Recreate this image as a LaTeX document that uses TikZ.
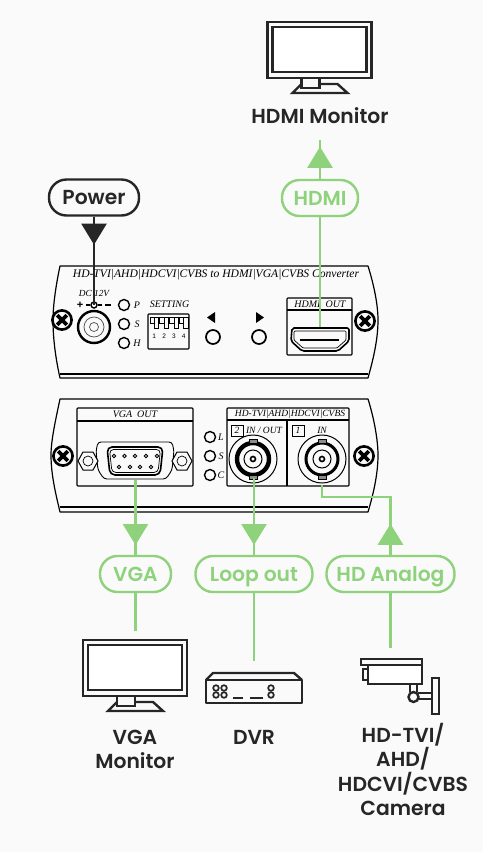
\documentclass[tikz,border=0pt]{standalone}
\usepackage{fontspec}
\setmainfont{Poppins}
\newfontfamily\labelfont{Poppins SemiBold}
\newfontfamily\panelfont{Liberation Serif}
\newfontfamily\dipfont{Liberation Sans}
\usetikzlibrary{arrows.meta,decorations.markings}
\definecolor{pagebg}{HTML}{FAFAFA}
\definecolor{inkdark}{HTML}{262626}
\definecolor{wiregreen}{HTML}{8FD27C}
\tikzset{
    every node/.style={inner sep=0pt},
    pill/.style={rounded corners=17.5pt,draw,line width=2.4pt,fill=pagebg,minimum height=36pt,text height=14pt,text depth=0pt,font=\labelfont\fontsize{20.3}{20.3}\selectfont},
    greenpill/.style={pill,draw=wiregreen,text=wiregreen},
    iconlabel/.style={text=inkdark,align=center,font=\labelfont\fontsize{20.3}{24.5}\selectfont},
    paneltext/.style={font=\panelfont\itshape\fontsize{#1}{#1}\selectfont,text=black},
    panel/.style={draw=black,line width=1.2pt,fill=pagebg,line join=round},
    box/.style={draw=black,line width=1.1pt,rounded corners=0.8pt},
    led/.style={draw=black,line width=1.4pt},
    icon/.style={draw=inkdark,line width=2.4pt},
    wire/.style={draw=wiregreen,line width=2.6pt},
    darkwire/.style={draw=inkdark,line width=2.2pt},
    tipat/.style={postaction={decorate,decoration={markings,mark=at position #1 with {\arrow{Triangle[length=21pt,width=25pt]}}}}},
    monitor/.pic={
        \draw[icon,fill=pagebg] (0,0) rectangle (104,56);
        \draw[icon,fill=white] (5,5) rectangle (99,50);
        \draw[icon] (34,56) -- (34,66) -- (52,66) -- (52,56);
        \draw[icon] (34,62) -- (25,71) -- (80,71) -- (70,62) -- (52,62);
    },
    screw/.pic={
        \draw[line width=2.6pt,fill=pagebg] (0,0) circle (9.6pt);
        \draw[line width=3.6pt] (-4.8,-4.8) -- (4.8,4.8) (-4.8,4.8) -- (4.8,-4.8);
    }
}
\begin{document}
\begin{tikzpicture}[x=1pt,y=-1pt]
\fill[pagebg] (0,0) rectangle (483,852);
\useasboundingbox (0,0) rectangle (483,852);
% front panel
\draw[panel] (60,266) -- (368,266) .. controls (374,285) and (378,305) .. (378,320) .. controls (378,340) and (373,360) .. (368,378)
    -- (60,378) .. controls (56,360) and (53,340) .. (53,320) .. controls (53,305) and (56,285) .. (60,266) -- cycle;
\draw[line width=2pt] (60,373.5) -- (368,373.5);
\pic at (62,320) {screw};
\pic at (365,321) {screw};
\node[paneltext=11.6] (fronttitle) at (216,275) {HD-TVI|AHD|HDCVI|CVBS to HDMI|VGA|CVBS Converter};
\node[paneltext=9.3] (dclabel) at (94,293) {DC 12V};
\node[font=\dipfont\bfseries\fontsize{11}{11}\selectfont] (dcplus) at (80,305) {+};
\draw[line width=1.2pt] (86,305) -- (90,305) (98,305) -- (102,305) (105,305) -- (111,305);
\draw[line width=1.4pt,fill=pagebg] (94,305) circle (3pt);
\draw[line width=2.4pt] (94,327) circle (16pt);
\draw[line width=0.7pt,draw=black!70] (94,327) circle (10pt) (94,327) circle (4.5pt);
\foreach \y/\txt in {305/P,324/S,343/H}{
    \draw[led] (124,\y) circle (5.5pt);
    \node[paneltext=10] (led\txt) at (137,\y) {\txt};
}
\node[paneltext=10] (settinglabel) at (169.5,304) {SETTING};
\draw[box] (148,314) rectangle (189,349);
\foreach \i in {1,2,3,4}{
    \draw[line width=0.8pt] (\i*9.8+144.5,317) rectangle (\i*9.8+148.8,328);
    \draw[line width=0.8pt] (\i*9.8+140.2,317) rectangle (\i*9.8+144.5,323);
    \node[font=\dipfont\fontsize{6.5}{6.5}\selectfont] (dip\i) at (\i*9.8+144.5,336) {\i};
}
\fill (207,317.5) -- (215,312) -- (215,323) -- cycle;
\fill (264,317.5) -- (256,312) -- (256,323) -- cycle;
\draw[led,line width=1.7pt] (213,337) circle (7pt);
\draw[led,line width=1.7pt] (259,337) circle (7pt);
\draw[box] (287,298) rectangle (352,355);
\draw[line width=1.1pt] (287,310) -- (352,310);
\node[paneltext=10] (hdmibox) at (320,304) {HDMI\ \ OUT};
\draw[line width=1.6pt,rounded corners=2pt] (292,328) -- (349,328) -- (349,341) -- (338,351) -- (302,351) -- (291,341) -- cycle;
\draw[line width=0.7pt,rounded corners=1pt] (294,331) -- (346,331) -- (346,340) -- (337,348) -- (303,348) -- (294,340) -- cycle;
\draw[line width=1.8pt] (300,340) -- (339,340);
% rear panel
\draw[panel] (60,399) -- (368,399) .. controls (374,418) and (378,440) .. (378,455) .. controls (378,475) and (373,495) .. (368,512)
    -- (60,512) .. controls (56,495) and (51,475) .. (51,455) .. controls (51,440) and (56,418) .. (60,399) -- cycle;
\draw[line width=2pt] (60,507) -- (368,507);
\pic at (63,456) {screw};
\pic at (364,456) {screw};
\draw[box] (77,408) rectangle (193,486);
\draw[line width=1.1pt] (77,421) -- (193,421);
\node[paneltext=10] (vgabox) at (135,414.5) {VGA\ \ OUT};
\draw[line width=0.9pt,rounded corners=3pt] (98,442) -- (172,442) -- (174,451) -- (172,470) -- (166,479) -- (104,479) -- (98,470) -- (96,451) -- cycle;
\foreach \x in {88,182}{
    \draw[line width=1pt,fill=pagebg] (\x-10,461) -- (\x-5,452) -- (\x+5,452) -- (\x+10,461) -- (\x+5,470) -- (\x-5,470) -- cycle;
    \draw[line width=0.7pt] (\x,461) circle (5pt);
}
\draw[line width=1.6pt,rounded corners=5pt] (107,447) -- (163,447) -- (160,475) -- (110,475) -- cycle;
\draw[line width=0.7pt,rounded corners=4pt] (109.5,449.5) -- (160.5,449.5) -- (158,472.5) -- (112,472.5) -- cycle;
\foreach \x in {114,124.5,135,146,157}{
    \draw[line width=0.8pt] (\x,456) circle (1.7pt);
}
\foreach \x in {119,130,140,151}{
    \draw[line width=0.8pt] (\x,467) circle (1.7pt);
}
\foreach \y/\txt in {437/L,456/S,475/C}{
    \draw[led] (210,\y) circle (5.5pt);
    \node[paneltext=10] (led\txt2) at (221,\y) {\txt};
}
\draw[box] (227,408) rectangle (349,486);
\draw[line width=1.1pt] (227,420) -- (349,420) (287,420) -- (287,486);
\node[paneltext=9.5] (bncbox) at (290,414) {HD-TVI|AHD|HDCVI|CVBS};
\foreach \x/\num in {237/2,298/1}{
    \draw[line width=1pt] (\x-6,425) rectangle (\x+6,436);
    \node[paneltext=9.5] (port\num) at (\x,430.5) {\num};
}
\node[paneltext=9.5] (inoutlabel) at (264,430) {IN / OUT};
\node[paneltext=9.5] (inlabel) at (322,430) {IN};
\foreach \x/\w in {253/4.4,322/3}{
    \draw[line width=1pt] (\x,459) circle (24pt);
    \draw[line width=\w pt] (\x,459) circle (16pt);
    \draw[line width=1pt] (\x,459) circle (9pt);
    \draw[line width=1.6pt] (\x,459) circle (2.5pt);
    \draw[line width=0.7pt,fill=black!45] (\x-4,439.5) rectangle (\x+4,443);
    \draw[line width=0.7pt,fill=black!45] (\x-4,475) rectangle (\x+4,479);
}
% icons
\pic at (267.5,22) {monitor};
\pic at (83,640) {monitor};
\draw[icon,line join=round] (206,703) rectangle (302,680);
\draw[icon,line join=round] (206,680) -- (213,673) -- (294,673) -- (302,680);
\foreach \x/\y in {216/688,224/688,216/695,224/695,271/688,271/695}{
    \draw[inkdark,line width=1.7pt] (\x,\y) circle (2.8pt);
}
\draw[icon] (233,698) -- (243,698) (250,698) -- (263,698);
\draw[icon] (361,659) rectangle (422,665);
\draw[icon,fill=white] (368,665) rectangle (422,684);
\draw[icon] (368,669) -- (363,669) -- (363,680) -- (368,680);
\draw[icon] (410,684) -- (410,692) (417,684) -- (417,692);
\draw[icon] (413.5,697) circle (5pt);
\draw[icon] (418,693) -- (432,693) (418,699) -- (432,699);
\draw[icon] (432,678) rectangle (439,714);
% labels
\node[iconlabel] (hdmimonitor) at (320,116) {HDMI Monitor};
\node[iconlabel] (vgamonitor) at (135,749.5) {VGA\\Monitor};
\node[iconlabel] (dvr) at (254,737.5) {DVR};
\node[iconlabel] (camera) at (403,769.5) {HD-TVI/\\AHD/\\HDCVI/CVBS\\Camera};
\node[pill,draw=inkdark,text=inkdark,minimum width=90pt] (powerlabel) at (94,197.5) {Power};
\node[greenpill,minimum width=76pt] (hdmilabel) at (320,198) {HDMI};
\node[greenpill,minimum width=71pt] (vgalabel) at (135.5,574) {VGA};
\node[greenpill,minimum width=117pt] (loopoutlabel) at (254,574) {Loop out};
\node[greenpill,minimum width=128pt] (analoglabel) at (390.5,574) {HD Analog};
% connectors
\coordinate (dcjack) at (94,305);
\coordinate (hdmitop) at (320,140);
\coordinate (hdmiport) at (320,327);
\coordinate (vgaport) at (135.5,480);
\coordinate (vgaend) at (135.5,631);
\coordinate (loopport) at (254,478);
\coordinate (dvrend) at (254,661);
\coordinate (inport) at (322,485);
\coordinate (inbend) at (322,497);
\coordinate (analogbend) at (390.5,497);
\coordinate (cameraend) at (390.5,648);
\draw[darkwire,tipat=28pt] (powerlabel) -- (dcjack);
\draw[wire,tipat=32pt] (hdmilabel) -- (hdmitop);
\draw[wire] (hdmilabel) -- (hdmiport);
\draw[wire,tipat=65pt] (vgaport) -- (vgalabel);
\draw[wire] (vgalabel) -- (vgaend);
\draw[wire,tipat=67pt] (loopport) -- (loopoutlabel);
\draw[wire] (loopoutlabel) -- (dvrend);
\draw[wire,tipat=31pt] (analoglabel) -- (analogbend) -- (inbend) -- (inport);
\draw[wire] (analoglabel) -- (cameraend);
\end{tikzpicture}
\end{document}
